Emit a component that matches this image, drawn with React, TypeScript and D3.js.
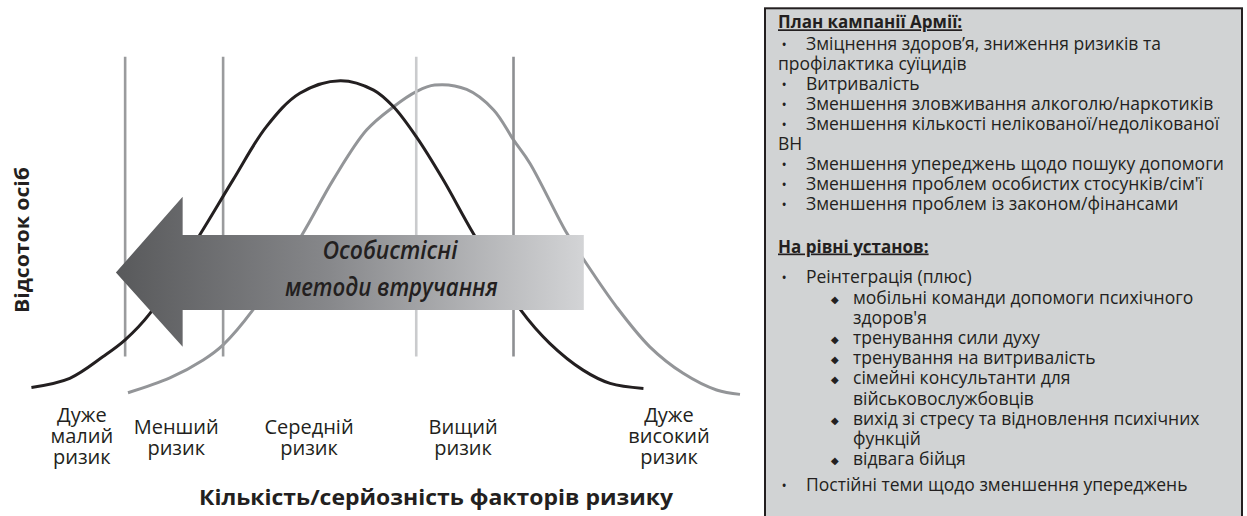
import React from 'react';
import * as d3 from 'd3';

// risk scale 0..100 (x), share of people 0..100 (y)
const blackX = [0.2, 5.6, 10.3, 13.4, 16.9, 23.9, 28.6, 33.3, 38.0, 43.7, 48.4, 51.2, 54.4, 58.2, 62.4, 69.1, 73.2, 77.9, 81.7, 86.4];
const blackY = [2.4, 5.3, 12.2, 17.5, 25.9, 50.8, 68.3, 85.2, 95.8, 99.8, 96.8, 91.5, 82.0, 68.3, 51.4, 27.0, 16.4, 7.9, 3.7, 2.1];

const grayX = [13.8, 19.7, 24.4, 27.2, 31.4, 38.3, 42.7, 47.4, 51.2, 54.4, 57.0, 61.5, 65.3, 68.1, 70.4, 75.6, 78.2, 82.6, 87.3, 92.0, 96.7, 100];
const grayY = [0.7, 5.4, 11.1, 15.9, 27.0, 50.8, 68.3, 84.1, 91.5, 96.3, 98.4, 97.0, 90.5, 81.0, 73.6, 51.4, 42.3, 28.0, 15.3, 6.9, 1.6, 0.2];

const thresholds = [13.4, 27.2, 54.4, 68.1];
const thresholdColors = ['#9a9b9d', '#9a9b9d', '#cacbcd', '#8e8f92'];

const categoryLines = [
  ['Дуже', 'малий', 'ризик'],
  ['Менший', 'ризик'],
  ['Середній', 'ризик'],
  ['Вищий', 'ризик'],
  ['Дуже', 'високий', 'ризик'],
];
const categoryCenters = [7.3, 20.6, 39.3, 61.0, 90.0];

const xTitle = 'Кількість/серйозність факторів ризику';
const yTitle = 'Відсоток осіб';
const arrowText = ['Особистісні', 'методи втручання'];

const armyTitle = 'План кампанії Армії:';
const armyItems = [
  ['Зміцнення здоров’я, зниження ризиків та', 'профілактика суїцидів'],
  ['Витривалість'],
  ['Зменшення зловживання алкоголю/наркотиків'],
  ['Зменшення кількості нелікованої/недолікованої', 'ВН'],
  ['Зменшення упереджень щодо пошуку допомоги'],
  ['Зменшення проблем особистих стосунків/сім\'ї'],
  ['Зменшення проблем із законом/фінансами'],
];

const unitTitle = 'На рівні установ:';
const unitFirst = 'Реінтеграція (плюс)';
const unitSubItems = [
  ['мобільні команди допомоги психічного', 'здоров\'я'],
  ['тренування сили духу'],
  ['тренування на витривалість'],
  ['сімейні консультанти для', 'військовослужбовців'],
  ['вихід зі стресу та відновлення психічних', 'функцій'],
  ['відвага бійця'],
];
const unitLast = 'Постійні теми щодо зменшення упереджень';

const App = () => {
  const width = 1247;
  const height = 516;
  const font = "'Open Sans', sans-serif";
  const ink = '#231f20';

  const xScale = d3.scaleLinear().domain([0, 100]).range([30, 740]);
  const yScale = d3.scaleLinear().domain([0, 100]).range([395, 80]);

  const curvePath = (xs: number[], ys: number[]) =>
    d3
      .line<number>()
      .x(i => xScale(xs[i]))
      .y(i => yScale(ys[i]))
      .curve(d3.curveCatmullRom.alpha(0.5))(d3.range(xs.length));

  const blackPath = curvePath(blackX, blackY);
  const grayPath = curvePath(grayX, grayY);

  // arrow, in chart units
  const tip = xScale(12.1);
  const base = xScale(21.5);
  const tail = xScale(78);
  const sTop = yScale(50.8);
  const sBot = yScale(27);
  const hTop = yScale(62.9);
  const hBot = yScale(15.3);
  const mid = (sTop + sBot) / 2;
  const arrowPath = `M${tip},${mid}L${base},${hTop}L${base},${sTop}L${tail},${sTop}L${tail},${sBot}L${base},${sBot}L${base},${hBot}Z`;

  // text box rows
  const boxX = 765;
  const bulletX = 781.5;
  const textX = 806;
  const subBulletX = 831;
  const subTextX = 853;
  const rows: { t: string; x: number; y: number; b?: string; bx?: number }[] = [];
  let y = 49.5;
  armyItems.forEach(item => {
    item.forEach((t, j) => {
      rows.push(j === 0 ? { t, x: textX, y, b: '•', bx: bulletX } : { t, x: boxX + 13, y });
      y += 20;
    });
  });
  y = 283;
  rows.push({ t: unitFirst, x: textX, y, b: '•', bx: bulletX });
  y += 21;
  unitSubItems.forEach(item => {
    item.forEach((t, j) => {
      rows.push(j === 0 ? { t, x: subTextX, y, b: '◆', bx: subBulletX } : { t, x: subTextX, y });
      y += 20.1;
    });
  });
  rows.push({ t: unitLast, x: textX, y: 491, b: '•', bx: bulletX });

  return (
    <svg
      width={width}
      height={height}
      viewBox={`0 0 ${width} ${height}`}
      style={{ position: 'absolute', left: 0, top: 0, background: '#fff' }}
      fontFamily={font}
    >
      <defs>
        <linearGradient id='arrowGrad' x1='0' x2='1' y1='0' y2='0'>
          <stop offset='0' stopColor='#58595b' />
          <stop offset='0.45' stopColor='#86878a' />
          <stop offset='1' stopColor='#d3d4d6' />
        </linearGradient>
      </defs>

      <path d={grayPath || ''} fill='none' stroke='#939598' strokeWidth={3} />
      {thresholds.map((t, i) => (
        <line
          key={`thr-${i}`}
          x1={xScale(t)}
          x2={xScale(t)}
          y1={yScale(107.4)}
          y2={yScale(12.2)}
          stroke={thresholdColors[i]}
          strokeWidth={2.6}
        />
      ))}
      <path d={blackPath || ''} fill='none' stroke={ink} strokeWidth={3} />

      <path d={arrowPath} fill='url(#arrowGrad)' />
      <text x={xScale(50.7)} y={259} textAnchor='middle' fontStyle='italic' fontWeight={600} fontSize={25} fill={ink}
        textLength={135} lengthAdjust='spacingAndGlyphs'>
        {arrowText[0]}
      </text>
      <text x={xScale(50.9)} y={296} textAnchor='middle' fontStyle='italic' fontWeight={600} fontSize={25} fill={ink}
        textLength={213} lengthAdjust='spacingAndGlyphs'>
        {arrowText[1]}
      </text>

      {categoryLines.map((lines, i) => {
        const y0 = lines.length === 3 ? 422 : 434;
        return (
          <text key={`cat-${i}`} textAnchor='middle' fontSize={20} fill={ink}>
            {lines.map((l, j) => (
              <tspan key={j} x={xScale(categoryCenters[i])} y={y0 + j * 21}>
                {l}
              </tspan>
            ))}
          </text>
        );
      })}

      <text x={436} y={505} textAnchor='middle' fontWeight='bold' fontSize={21} fill={ink}
        textLength={474} lengthAdjust='spacingAndGlyphs'>
        {xTitle}
      </text>
      <text
        transform={`translate(29, 240) rotate(-90)`}
        textAnchor='middle'
        fontWeight='bold'
        fontSize={20}
        fill={ink}
        textLength={146}
        lengthAdjust='spacingAndGlyphs'
      >
        {yTitle}
      </text>

      <rect x={boxX} y={8.3} width={477} height={540} fill='#d1d3d4' stroke={ink} strokeWidth={2} />
      <text x={boxX + 13} y={28.3} fontWeight='bold' fontSize={17} fill={ink} textDecoration='underline'>
        {armyTitle}
      </text>
      <text x={boxX + 13} y={252.5} fontWeight='bold' fontSize={17} fill={ink} textDecoration='underline'>
        {unitTitle}
      </text>
      {rows.map((r, i) => (
        <g key={`row-${i}`} fill={ink} fontSize={17.5}>
          {r.b === '•' && (
            <text x={r.bx} y={r.y} fontSize={14}>
              •
            </text>
          )}
          {r.b === '◆' && (
            <text x={r.bx} y={r.y - 1} fontSize={10} fontFamily="'DejaVu Sans', sans-serif">
              ◆
            </text>
          )}
          <text x={r.x} y={r.y}>
            {r.t}
          </text>
        </g>
      ))}
    </svg>
  );
};

export default App;
